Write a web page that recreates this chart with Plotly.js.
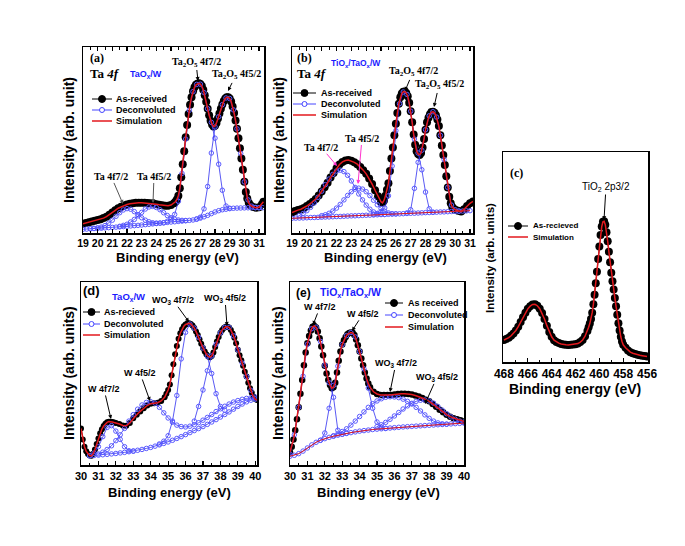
<!DOCTYPE html>
<html><head><meta charset="utf-8">
<script src="https://cdn.plot.ly/plotly-3.0.1.min.js"></script>
<style>html,body{margin:0;padding:0;background:#fff}#chart{width:685px;height:546px}</style>
</head><body><div id="chart"></div>
<script>
// ---------- Panel (a): Ta 4f, TaOx/W ----------
const xA = [19.0,19.2,19.4,19.6,19.8,20.0,20.2,20.4,20.6,20.8,21.0,21.2,21.4,21.6,21.8,22.0,22.2,22.4,22.6,22.8,23.0,23.2,23.4,23.6,23.8,24.0,24.2,24.4,24.6,24.8,25.0,25.2,
 25.3,25.4,25.5,25.6,25.7,25.8,25.9,26.0,26.1,26.2,26.3,26.4,26.5,26.6,26.7,26.8,26.9,27.0,27.1,27.2,27.3,27.4,27.5,27.6,27.7,27.8,27.9,28.0,28.1,28.2,28.3,28.4,28.5,28.6,28.7,28.8,28.9,29.0,29.1,29.2,29.3,29.4,29.5,29.6,29.7,29.8,29.9,30.0,30.1,30.2,30.3,30.4,
 30.6,30.8,31.0,31.2,31.3];
const yA = [5.0,5.4,5.8,6.2,6.6,7.0,7.4,8.0,8.8,9.8,11.0,12.2,13.3,14.1,14.8,15.3,15.7,16.0,16.2,16.3,16.3,16.2,16.1,16.0,15.8,15.5,15.2,14.9,14.7,14.7,15.0,16.0,
 16.8,18,20,24,30,37,44,51.5,58,64,69,73,76.2,78.4,79.7,80.3,80.5,80.1,79,77,74,70.5,66.8,63.3,60.4,58.4,57.2,57.6,59.2,61.6,64.2,66.8,69.1,71,72.3,73,73,72.3,70.7,68,64.5,60.5,56,51,45.5,40,34,27.5,22,18.6,16.2,15,
 14.0,13.6,13.8,15.5,16.8];
const gA = [19,19.25,19.5,19.75,20,20.25,20.5,20.75,21,21.25,21.5,21.75,22,22.25,22.5,22.75,23,23.25,23.5,23.75,24,24.25,24.5,24.75,25,25.25,25.5,25.75,26,26.25,26.5,26.75,27,27.25,27.5,27.75,28,28.25,28.5,28.75,29,29.25,29.5,29.75,30,30.25,30.5,30.75,31,31.25];
const bgA = [2.0,2.1,2.25,2.4,2.5,2.6,2.75,2.9,3.0,3.15,3.3,3.45,3.6,3.8,3.95,4.1,4.3,4.5,4.7,4.9,5.1,5.3,5.5,5.7,5.9,6.05,6.25,6.4,6.6,6.8,7.0,7.4,8.0,8.7,9.5,10.4,11.3,12.0,12.5,12.8,13.1,13.3,13.4,13.45,13.5,13.55,13.6,13.6,13.6,13.6];
const c1Ax = [19.5,19.75,20,20.25,20.5,20.75,21,21.25,21.5,21.75,22,22.25,22.5,22.75,23,23.25,23.5,23.75,24,24.25,24.5];
const c1Ay = [2.3,2.5,2.8,3.2,4.0,5.3,6.9,9.0,10.9,12.4,13.1,12.8,11.5,9.9,8.2,6.9,6.0,5.5,5.3,5.35,5.5];
const c2Ax = [21.5,21.75,22,22.25,22.5,22.75,23,23.25,23.5,23.75,24,24.25,24.5,24.75,25,25.25,25.5,25.75,26];
const c2Ay = [3.6,4.1,4.7,5.9,7.3,9.2,11.1,12.9,14.0,14.3,13.7,12.5,10.9,9.4,8.2,7.4,7.0,6.8,6.7];
const c3Ax = [24.75,25,25.25,25.5,25.75,26,26.25,26.5,26.75,27,27.25,27.5,27.75,28,28.25,28.5,28.75,29];
const c3Ay = [6.3,7.5,10,17,32,50.5,66,76,79.9,80,75.5,66.8,59.5,51,37,23,14.5,13.3];
const c4Ax = [26.75,27,27.25,27.5,27.75,28,28.25,28.5,28.75,29,29.25,29.5,29.75,30,30.25,30.5,30.75,31];
const c4Ay = [7.6,8.5,13,25,43,57,62.5,69,72.6,72.3,66.2,56,42.8,27.5,17.8,14.4,13.7,13.6];

// ---------- Panel (b): Ta 4f, TiOx/TaOx/W ----------
const xB = [19.0,19.2,19.4,19.6,19.8,20.0,20.2,20.4,20.6,20.8,21.0,21.2,21.4,21.6,21.8,22.0,22.2,22.4,22.6,22.8,23.0,23.2,23.4,23.6,23.8,24.0,24.2,24.4,24.6,24.8,25.0,
 25.1,25.2,25.3,25.4,25.5,25.6,25.7,25.8,25.9,26.0,26.1,26.2,26.3,26.4,26.5,26.6,26.7,26.8,26.9,27.0,27.1,27.2,27.3,27.4,27.5,27.6,27.7,27.8,27.9,28.0,28.1,28.2,28.3,28.4,28.5,28.6,28.7,28.8,28.9,29.0,29.1,29.2,29.3,29.4,29.5,29.6,29.7,29.8,29.9,30.0,
 30.2,30.4,30.6,30.8,31.0,31.2];
const yB = [11,11.8,12.3,12.8,13.5,14.5,15.6,16.8,18.3,20.2,22.3,24.6,27,29.8,32.3,34.8,36.8,38.2,39,39.2,38.8,38,37,35.5,33.8,31.8,29.3,26.3,23,19.8,16.8,
 16.2,17.5,20,23.3,26.8,33.3,40,46,52.5,58.8,64.5,69.5,73,75,76,76.1,75.3,73.5,70,65.5,59.5,53,47.5,44,42.5,42,43,46,50.5,55.5,59.5,62,63.8,65,65.2,64.6,63.3,61,57.5,52.5,47,42,36.5,30.5,24.5,19.5,16,14,13,12.5,
 12,11.5,12.8,14.5,16,17];
const gB = [19,19.25,19.5,19.75,20,20.25,20.5,20.75,21,21.25,21.5,21.75,22,22.25,22.5,22.75,23,23.25,23.5,23.75,24,24.25,24.5,24.75,25,25.25,25.5,25.75,26,26.25,26.5,26.75,27,27.25,27.5,27.75,28,28.25,28.5,28.75,29,29.25,29.5,29.75,30,30.25,30.5,30.75,31];
const bgB = [7.9,8.0,8.05,8.1,8.2,8.3,8.35,8.4,8.5,8.6,8.65,8.75,8.85,8.9,9.0,9.1,9.2,9.25,9.35,9.45,9.55,9.6,9.7,9.8,9.9,9.95,10.05,10.15,10.25,10.3,10.4,10.5,10.6,10.65,10.75,10.85,10.95,11.0,11.1,11.2,11.3,11.35,11.45,11.55,11.65,11.7,11.8,11.9,12.0];
const c1Bx = [19.5,19.75,20,20.25,20.5,20.75,21,21.25,21.5,21.75,22,22.25,22.5,22.75,23,23.25,23.5,23.75,24,24.25,24.5,24.75,25,25.25];
const c1By = [9.5,10.5,12,13.8,16.2,19.2,22.5,26,29,31.5,33.3,33.8,33,31,28,24.5,21,17.8,15,12.8,11.3,10.5,10.1,10.0];
const c2Bx = [21,21.25,21.5,21.75,22,22.25,22.5,22.75,23,23.25,23.5,23.75,24,24.25,24.5,24.75,25,25.25,25.5,25.75,26];
const c2By = [9.3,9.8,10.6,11.8,13.4,15.4,17.8,20.2,22.2,23.6,24.1,23.6,22.2,20.1,17.6,15.2,13.2,11.7,10.8,10.4,10.3];
const c3Bx = [24.5,24.75,25,25.25,25.5,25.75,26,26.25,26.5,26.75,27,27.25,27.5,27.75,28,28.25,28.5];
const c3By = [10.0,10.5,11.5,13.5,20,36,55,69.5,75.8,74.5,65.5,50.5,43,34,22,13,11.2];
const c4Bx = [26.75,27,27.25,27.5,27.75,28,28.25,28.5,28.75,29,29.25,29.5,29.75,30,30.25];
const c4By = [10.8,12.5,24,38,44.5,55.5,63,65.2,62.3,52.5,39.5,24.5,15,12.5,11.8];

// ---------- Panel (c): TiO2 2p ----------
const xC = [468.0,467.8,467.6,467.4,467.2,467.0,466.8,466.6,466.4,466.2,466.0,465.8,465.6,465.4,465.2,465.0,464.8,464.6,464.4,464.2,464.0,463.8,463.6,463.4,463.2,463.0,462.8,462.6,462.4,462.2,462.0,461.8,461.6,461.4,461.2,461.0,
 460.9,460.8,460.7,460.6,460.5,460.4,460.3,460.2,460.1,460.0,459.9,459.8,459.7,459.6,459.5,459.4,459.3,459.2,459.1,459.0,458.9,458.8,458.7,458.6,458.5,458.4,458.3,458.2,458.1,458.0,
 457.8,457.6,457.4,457.2,457.0,456.8,456.6,456.4,456.2,456.0];
const yC = [10.5,11,11.6,12.5,13.6,15,16.8,19,21.3,23.5,25.3,26.6,27.4,27.5,26.8,25.4,23.3,20.5,17.3,14.3,12,10.4,9.5,9,8.6,8.3,8.2,8.1,8.2,8.3,8.5,8.8,9.5,10.5,12.3,14.8,
 16.5,18.3,20.5,23.5,27.5,32,37.5,43,49,55,60.5,64.5,66.8,67,65.3,61.8,57.5,52.5,47.5,42.5,38.5,34.5,30.5,26.5,22.5,18.5,15,12,9.8,8.2,
 6.8,5.5,4.7,4.2,3.8,3.5,3.2,3,2.8,2.6];

// ---------- Panel (d): W 4f, TaOx/W ----------
const xD = [30.0,30.1,30.2,30.3,30.4,30.5,30.6,30.7,30.8,30.9,31.0,31.1,31.2,31.3,31.4,31.5,31.6,31.7,31.8,31.9,
 32.0,32.2,32.4,32.6,32.8,33.0,33.2,33.4,33.6,33.8,34.0,34.2,34.4,34.6,
 34.8,34.9,35.0,35.1,35.2,35.3,35.4,35.5,35.6,35.7,35.8,35.9,36.0,36.1,36.2,36.3,36.4,36.5,36.6,36.7,36.8,36.9,37.0,37.1,37.2,37.3,37.4,37.5,37.6,37.7,37.8,37.9,38.0,38.1,38.2,38.3,38.4,38.5,38.6,38.7,38.8,38.9,39.0,39.1,39.2,39.3,39.4,39.5,39.6,39.7,39.8,39.9,40.0,40.1];
const yD = [20,14,10,7.5,6,5.2,5,6.2,8.5,11.5,14.5,17.3,19.6,21.3,22.5,23.3,23.7,23.7,23.5,23.2,
 23,22.4,21.6,21.4,23,25.5,27.5,29.3,31,32.5,33.5,33.8,34,35,
 37,39,41,44,49,55,60.5,65,69,72,74.2,75.8,76.8,77.3,77.4,77.1,76.2,74.8,73,71,68.7,66.3,64,62,60.4,59.3,58.9,59.6,61.5,64.5,67.5,70,72.2,73.8,74.9,75.5,75.6,75.2,73.8,71.8,69.5,66.5,63,60,57.2,54.2,51,48.3,45,42,39.5,37.3,36,35.5];
const gD = [30.5,30.75,31,31.25,31.5,31.75,32,32.25,32.5,32.75,33,33.25,33.5,33.75,34,34.25,34.5,34.75,35,35.25,35.5,35.75,36,36.25,36.5,36.75,37,37.25,37.5,37.75,38,38.25,38.5,38.75,39,39.25,39.5,39.75,40];
const bgD = [5,5.2,5.4,5.6,5.8,6.05,6.3,6.6,6.9,7.25,7.6,8.05,8.5,9.05,9.6,10.3,11.0,11.8,12.6,13.5,14.5,15.5,16.6,17.7,18.8,19.9,21.0,22.2,23.5,24.8,26.2,27.6,29.0,30.5,32.0,33.3,34.5,35.4,36.2];
const c1Dx = [30.5,30.75,31,31.25,31.5,31.75,32,32.25,32.5,32.75,33];
const c1Dy = [5.1,6.5,10,15.5,20.5,21.5,18.5,14,10,7.8,7.6];
const c2Dx = [31,31.25,31.5,31.75,32,32.25,32.5,32.75,33,33.25,33.5,33.75,34,34.25,34.5,34.75,35,35.25,35.5,35.75,36,36.25,36.5,36.75,37,37.25,37.5,37.75,38,38.25,38.5,38.75,39,39.25,39.5,39.75,40];
const c2Dy = [6,7,8.5,10.5,13.3,16.5,20,24,27.5,30.5,32.8,34.2,34.6,33.8,31.5,28.5,25.7,23.4,21.8,21,20.8,21.2,22,23.1,24.5,26,27.6,29.2,30.7,32.1,33.3,34.4,35.2,35.9,36.4,36.8,37.1];
const c3Dx = [34.5,34.75,35,35.25,35.5,35.75,36,36.25,36.5,36.75,37,37.25,37.5,37.75,38,38.25];
const c3Dy = [11.5,13,16,24,38,58,72.5,77,74.8,69.8,64,59.5,50,39,32,30];
const c4Dx = [36.5,36.75,37,37.25,37.5,37.75,38,38.25,38.5,38.75,39,39.25,39.5,39.75,40];
const c4Dy = [24,32,41,51.5,59.6,66,72.2,75.2,75.2,70.6,63,55.7,48.3,40.8,36];

// ---------- Panel (e): W 4f, TiOx/TaOx/W ----------
const xE = [30.0,30.1,30.2,30.3,30.4,30.5,30.6,30.7,30.8,30.9,31.0,31.1,31.2,31.3,31.4,31.5,31.6,31.7,31.8,31.9,32.0,32.1,32.2,32.3,32.4,32.5,32.6,32.7,32.8,32.9,33.0,33.1,33.2,33.3,33.4,33.5,33.6,33.7,33.8,33.9,34.0,34.1,34.2,34.3,34.4,34.5,34.6,
 34.8,35.0,35.2,35.4,35.6,35.8,36.0,36.2,36.4,36.6,36.8,37.0,37.2,37.4,37.6,37.8,38.0,38.2,38.4,38.6,38.8,39.0,39.2,39.4,39.6,39.8,40.0];
const yE = [7,10,14,19,25,31.5,39,46.5,54.5,61.5,66.5,70.5,73.5,75.5,76,75.2,73,69.3,64.8,60,54.2,50,46.5,43.7,42,42.5,45,50.5,57,62,65.8,68.2,70,71.4,72.1,72.4,72.2,71,68.6,65.5,62,58.2,54.5,50.5,47.3,44.6,42.5,
 40,38.8,38.3,38.2,38.2,38.3,38.5,38.8,38.9,38.9,38.8,38.5,38,37.4,36.6,35.7,34.8,33.4,31.8,30.2,28.8,27.5,26.4,25.6,25,24.5,23.8];
const gE = [30,30.25,30.5,30.75,31,31.25,31.5,31.75,32,32.25,32.5,32.75,33,33.25,33.5,33.75,34,34.25,34.5,34.75,35,35.25,35.5,35.75,36,36.25,36.5,36.75,37,37.25,37.5,37.75,38,38.25,38.5,38.75,39,39.25,39.5,39.75,40];
const bgE = [4.8,5.3,6.2,7.6,9.3,11,12.4,13.5,14.4,15.1,15.7,16.3,16.8,17.3,17.7,18.1,18.5,18.8,19.1,19.4,19.6,19.8,20,20.2,20.4,20.6,20.8,20.95,21.1,21.25,21.4,21.55,21.7,21.85,22,22.15,22.3,22.45,22.6,22.75,22.9];
const c1Ex = [30,30.25,30.5,30.75,31,31.25,31.5,31.75,32,32.25,32.5,32.75,33,33.25];
const c1Ey = [6,16.5,31.5,48.5,66,74.5,75.3,67.5,54.5,45,37,19,16.8,17.3];
const c2Ex = [31.75,32,32.25,32.5,32.75,33,33.25,33.5,33.75,34,34.25,34.5,34.75,35,35.25,35.5];
const c2Ey = [13.5,17.5,31,43.5,54,65.8,70.7,72.4,70,62,52.5,42,31,23.5,20.5,20];
const c3Ex = [32.5,32.75,33,33.25,33.5,33.75,34,34.25,34.5,34.75,35,35.25,35.5,35.75,36,36.25,36.5,36.75,37,37.25,37.5,37.75,38,38.25,38.5,38.75,39];
const c3Ey = [16,17,18.3,19.8,21.8,24,26.5,29,31.5,33.5,35,36.2,37,37.3,37.2,36.8,36,34.8,33.3,31.5,29.5,27.4,25.5,24,23,22.5,22.3];
const c4Ex = [35,35.25,35.5,35.75,36,36.25,36.5,36.75,37,37.25,37.5,37.75,38,38.25,38.5,38.75,39,39.25,39.5,39.75,40];
const c4Ey = [21,22,23.3,25,26.8,28.7,30.6,32.3,33.7,34.8,35.4,35.5,35,33.8,32,30,28,26.3,25,24,23.5];

// ---------- helpers ----------
const W = 685, H = 546;
const PX = x => x / W, PY = y => 1 - y / H;
const SANS = 'Arial, Liberation Sans, sans-serif';
const SERIF = 'Times New Roman, Liberation Serif, serif';
const BLUE = '#4646ff', RED = '#e3191e';
const axId = n => n === 1 ? '' : String(n);

function dataTrace(x, y, n, size) {
  return {x, y, xaxis: 'x' + axId(n), yaxis: 'y' + axId(n), type: 'scatter', mode: 'lines+markers',
    line: {color: '#000', width: 1}, marker: {color: '#000', size: size}, showlegend: false, hoverinfo: 'skip'};
}
function compTrace(x, y, n) {
  return {x, y, xaxis: 'x' + axId(n), yaxis: 'y' + axId(n), type: 'scatter', mode: 'lines+markers',
    line: {color: '#3030f0', width: 0.8}, marker: {symbol: 'circle-open', size: 4.5, color: '#5a5aff', line: {width: 1}},
    showlegend: false, hoverinfo: 'skip'};
}
function simTrace(x, y, n, w) {
  return {x, y, xaxis: 'x' + axId(n), yaxis: 'y' + axId(n), type: 'scatter', mode: 'lines',
    line: {color: RED, width: w || 1.5}, showlegend: false, hoverinfo: 'skip'};
}

const traces = [
  dataTrace(xA, yA, 1, 8),
  compTrace(gA, bgA, 1), compTrace(c1Ax, c1Ay, 1), compTrace(c2Ax, c2Ay, 1), compTrace(c3Ax, c3Ay, 1), compTrace(c4Ax, c4Ay, 1),
  simTrace(xA, yA, 1),

  dataTrace(xB, yB, 2, 8),
  compTrace(gB, bgB, 2), compTrace(c1Bx, c1By, 2), compTrace(c2Bx, c2By, 2), compTrace(c3Bx, c3By, 2), compTrace(c4Bx, c4By, 2),
  simTrace(xB, yB, 2), simTrace(gB, bgB, 2, 1),

  dataTrace(xC, yC, 3, 8),
  simTrace(xC, yC, 3),

  dataTrace(xD, yD, 4, 6),
  compTrace(gD, bgD, 4), compTrace(c1Dx, c1Dy, 4), compTrace(c2Dx, c2Dy, 4), compTrace(c3Dx, c3Dy, 4), compTrace(c4Dx, c4Dy, 4),
  simTrace(xD, yD, 4),

  dataTrace(xE, yE, 5, 6.5),
  compTrace(gE, bgE, 5), compTrace(c1Ex, c1Ey, 5), compTrace(c2Ex, c2Ey, 5), compTrace(c3Ex, c3Ey, 5), compTrace(c4Ex, c4Ey, 5),
  simTrace(xE, yE, 5), simTrace(gE, bgE, 5, 1)
];

function xax(p0, p1, range, dtick, minor, tick0, mirror, fs, anchor) {
  return {domain: [PX(p0), PX(p1)], range: range, autorange: false, anchor: anchor,
    tickmode: 'linear', tick0: tick0, dtick: dtick, tickangle: 0, ticks: 'inside', ticklen: 4, tickwidth: 1.2, tickcolor: '#000',
    minor: {dtick: minor, tick0: tick0, ticks: 'inside', ticklen: 2.5, tickwidth: 1, tickcolor: '#000', showgrid: false},
    showline: true, linecolor: '#000', linewidth: 1.5, mirror: mirror, showgrid: false, zeroline: false,
    tickfont: {family: SANS, size: fs, color: '#000', weight: 'bold'}, fixedrange: true};
}
function yax(t, b, anchor) {
  return {domain: [PY(b), PY(t)], range: [0, 100], autorange: false, anchor: anchor,
    showline: true, linecolor: '#000', linewidth: 1.5, mirror: true, ticks: '', showticklabels: false,
    showgrid: false, zeroline: false, fixedrange: true};
}

const ann = [], shapes = [];
function label(text, cx, cy, size, family, color, anchor, angle) {
  ann.push({xref: 'paper', yref: 'paper', x: PX(cx), y: PY(cy), text: text, showarrow: false,
    xanchor: anchor || 'center', yanchor: 'middle', textangle: angle || 0,
    font: {family: family || SANS, size: size, color: color || '#000'}});
}
// label centred at (cx, cy) with an arrow pointing to (hx, hy)
function arrowLabel(text, cx, cy, hx, hy, size, family, acolor) {
  ann.push({xref: 'paper', yref: 'paper', x: PX(hx), y: PY(hy), ax: cx - hx, ay: cy - hy, axref: 'pixel', ayref: 'pixel',
    text: text, showarrow: true, arrowhead: 2, arrowsize: 0.8, arrowwidth: 1, arrowcolor: acolor || '#000',
    standoff: 0, startstandoff: 1, borderpad: 0,
    font: {family: family || SANS, size: size, color: '#000'}});
}
function legendRow(kind, x0, x1, xt, y, text, fs) {
  const col = kind === 'data' ? '#000' : (kind === 'dec' ? BLUE : RED);
  shapes.push({type: 'line', xref: 'paper', yref: 'paper', x0: PX(x0), x1: PX(x1), y0: PY(y), y1: PY(y),
    line: {color: col, width: kind === 'sim' ? 1.5 : 1}});
  const xm = (x0 + x1) / 2;
  if (kind === 'data') {
    shapes.push({type: 'circle', xref: 'paper', yref: 'paper', xsizemode: 'pixel', ysizemode: 'pixel',
      xanchor: PX(xm), yanchor: PY(y), x0: -3.5, x1: 3.5, y0: -3.5, y1: 3.5, fillcolor: '#000', line: {color: '#000', width: 1}});
  } else if (kind === 'dec') {
    shapes.push({type: 'circle', xref: 'paper', yref: 'paper', xsizemode: 'pixel', ysizemode: 'pixel',
      xanchor: PX(xm), yanchor: PY(y), x0: -2.5, x1: 2.5, y0: -2.5, y1: 2.5, fillcolor: '#fff', line: {color: BLUE, width: 1}});
  }
  label('<b>' + text + '</b>', xt, y, fs, SANS, '#000', 'left');
}

// axis titles
label('<b>Intensity (arb. unit)</b>', 69, 140, 14, SANS, '#000', 'center', -90);
label('<b>Intensity (arb. unit)</b>', 279, 140, 14, SANS, '#000', 'center', -90);
label('<b>Intensity (arb. units)</b>', 490, 258, 11.5, SANS, '#000', 'center', -90);
label('<b>Intensity (arb. units)</b>', 69, 373, 14, SANS, '#000', 'center', -90);
label('<b>Intensity (arb. units)</b>', 278, 373, 14, SANS, '#000', 'center', -90);
label('<b>Binding energy (eV)</b>', 177, 257, 13, SANS);
label('<b>Binding energy (eV)</b>', 385, 257, 13, SANS);
label('<b>Binding energy (eV)</b>', 575, 389, 14, SANS);
label('<b>Binding energy (eV)</b>', 169, 492, 13, SANS);
label('<b>Binding energy (eV)</b>', 379, 492, 13, SANS);

// panel (a)
label('<b>(a)</b>', 97, 58, 12, SERIF);
label('<b>Ta <i>4f</i></b>', 88, 74, 13, SERIF, '#000', 'left');
label('<b>TaO<sub>x</sub>/W</b>', 128, 75, 9, SANS, '#1a1aff', 'left');
arrowLabel('<b>Ta<sub>2</sub>O<sub>5</sub> 4f7/2</b>', 196, 62, 198, 81, 10, SERIF);
arrowLabel('<b>Ta<sub>2</sub>O<sub>5</sub> 4f5/2</b>', 236, 75, 228, 91, 10, SERIF);
arrowLabel('<b>Ta 4f7/2</b>', 111, 176, 123, 204, 10, SERIF, '#555');
arrowLabel('<b>Ta 4f5/2</b>', 154, 176, 153, 203, 10, SERIF, '#555');
legendRow('data', 92, 112, 114, 99, 'As-received', 9);
legendRow('dec', 92, 112, 114, 110, 'Deconvoluted', 9);
legendRow('sim', 92, 112, 114, 121, 'Simulation', 9);

// panel (b)
label('<b>(b)</b>', 304, 58, 12, SERIF);
label('<b>Ta <i>4f</i></b>', 295, 74, 13, SERIF, '#000', 'left');
label('<b>TiO<sub>x</sub>/TaO<sub>x</sub>/W</b>', 329, 63, 8.5, SANS, '#1a1aff', 'left');
arrowLabel('<b>Ta<sub>2</sub>O<sub>5</sub> 4f7/2</b>', 413, 72, 405, 91, 10, SERIF);
arrowLabel('<b>Ta<sub>2</sub>O<sub>5</sub> 4f5/2</b>', 439, 85, 434, 107, 10, SERIF);
arrowLabel('<b>Ta 4f7/2</b>', 321, 147, 337, 166, 10, SERIF, '#ff33cc');
arrowLabel('<b>Ta 4f5/2</b>', 362, 138, 358, 184, 10, SERIF, '#ff33cc');
legendRow('data', 293, 316, 319, 93, 'As-received', 9);
legendRow('dec', 293, 316, 319, 104, 'Deconvoluted', 9);
legendRow('sim', 293, 316, 319, 115, 'Simulation', 9);

// panel (c)
label('<b>(c)</b>', 516, 173, 12, SERIF);
arrowLabel('TiO<sub>2</sub> 2p3/2', 606, 187, 604, 220, 10, SANS);
legendRow('data', 508, 528, 531, 226, 'As-recieved', 8);
legendRow('sim', 508, 528, 531, 237, 'Simulation', 8);

// panel (d)
label('<b>(d)</b>', 91, 290, 13, SANS);
label('<b>TaO<sub>x</sub>/W</b>', 110, 297, 9.5, SANS, '#1a1aff', 'left');
arrowLabel('<b>WO<sub>3</sub> 4f7/2</b>', 173, 300, 189, 322, 9, SANS);
arrowLabel('<b>WO<sub>3</sub> 4f5/2</b>', 225, 298, 227, 326, 9, SANS);
arrowLabel('<b>W 4f5/2</b>', 140, 373, 150, 401, 9, SANS);
arrowLabel('<b>W 4f7/2</b>', 104, 389, 111, 419, 9, SANS);
legendRow('data', 83, 100, 102, 312, 'As-recieved', 9);
legendRow('dec', 83, 100, 102, 324, 'Deconvoluted', 9);
legendRow('sim', 83, 100, 102, 335, 'Simulation', 9);

// panel (e)
label('<b>(e)</b>', 303, 293, 12, SANS);
label('<b>TiO<sub>x</sub>/TaO<sub>x</sub>/W</b>', 318, 293, 10.5, SANS, '#1a1aff', 'left');
arrowLabel('<b>W 4f7/2</b>', 320, 307, 313, 325, 9, SANS);
arrowLabel('<b>W 4f5/2</b>', 363, 314, 352, 331, 9, SANS);
arrowLabel('<b>WO<sub>3</sub> 4f7/2</b>', 396, 363, 390, 392, 9, SANS);
arrowLabel('<b>WO<sub>3</sub> 4f5/2</b>', 437, 377, 425, 404, 9, SANS);
legendRow('data', 385, 403, 406, 303, 'As received', 9);
legendRow('dec', 385, 403, 406, 315, 'Deconvoluted', 9);
legendRow('sim', 385, 403, 406, 327, 'Simulation', 9);

const layout = {
  width: W, height: H, margin: {l: 0, r: 0, t: 0, b: 0, pad: 0},
  paper_bgcolor: '#fff', plot_bgcolor: '#fff', showlegend: false,
  font: {family: SANS, color: '#000'},
  xaxis:  xax(83, 264, [19, 31.34], 1, 0.5, 19, 'ticks', 10.5, 'y'),
  yaxis:  yax(47, 233, 'x'),
  xaxis2: xax(292, 473, [19, 31.2], 1, 0.5, 19, 'ticks', 10.5, 'y2'),
  yaxis2: yax(47, 233, 'x2'),
  xaxis3: xax(503, 648, [468.08, 455.92], 2, 1, 456, true, 12, 'y3'),
  yaxis3: yax(152, 362, 'x3'),
  xaxis4: xax(81, 257, [30, 40.1], 1, 0.5, 30, true, 11, 'y4'),
  yaxis4: yax(282, 465, 'x4'),
  xaxis5: xax(290, 464, [30, 40], 1, 0.5, 30, true, 11, 'y5'),
  yaxis5: yax(282, 465, 'x5'),
  annotations: ann, shapes: shapes
};
Plotly.newPlot('chart', traces, layout, {displayModeBar: false, staticPlot: true});
</script></body></html>
